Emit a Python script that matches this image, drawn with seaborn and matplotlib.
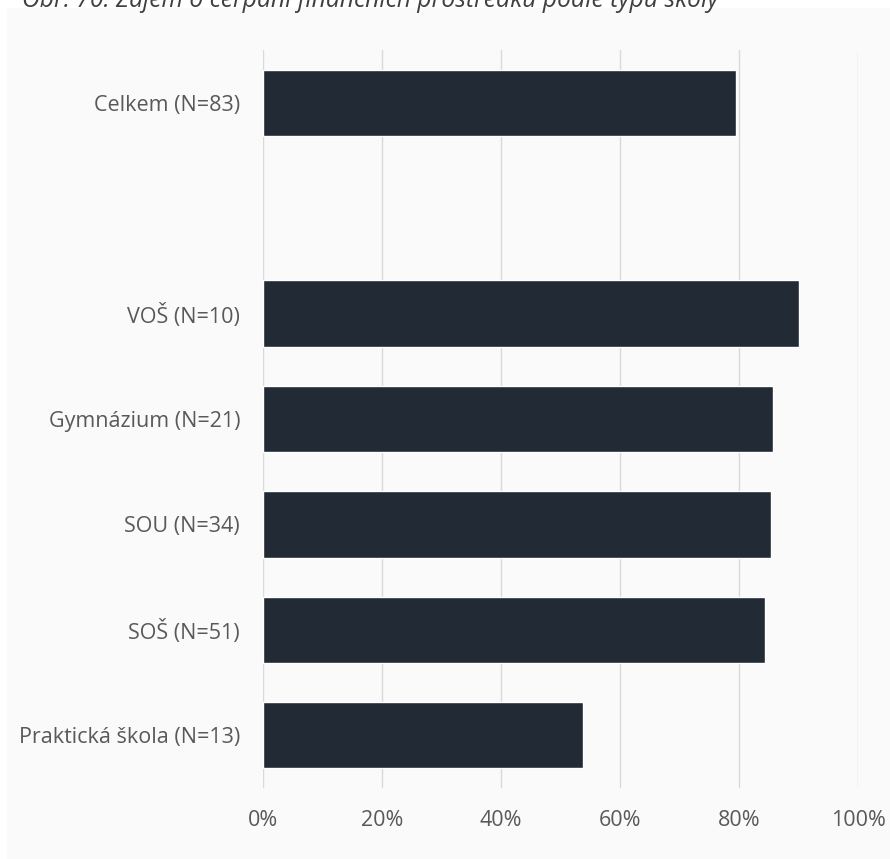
import pandas as pd
import matplotlib.pyplot as plt
import seaborn as sns
from matplotlib.patches import Rectangle
from matplotlib.ticker import PercentFormatter


# data
categories = ["Celkem (N=83)", "VOŠ (N=10)", "Gymnázium (N=21)",
              "SOU (N=34)", "SOŠ (N=51)", "Praktická škola (N=13)"]
shares = [79.5, 90.0, 85.7, 85.3, 84.3, 53.8]
order = ["Celkem (N=83)", " ", "VOŠ (N=10)", "Gymnázium (N=21)",
         "SOU (N=34)", "SOŠ (N=51)", "Praktická škola (N=13)"]
x_ticks = [0, 20, 40, 60, 80, 100]
title = "Obr. 70: Zájem o čerpání finančních prostředků podle typu školy"

df = pd.DataFrame({"kategorie": categories, "podil": shares})

sns.set_style("white")
plt.rcParams["font.family"] = ["Open Sans", "DejaVu Sans"]

fig = plt.figure(figsize=(8.9, 8.59), dpi=100, facecolor="white")
bg = "#fafafa"
fig.patches.append(Rectangle((7 / 890, 0), 1, 1 - 8 / 859, transform=fig.transFigure,
                             facecolor=bg, edgecolor="none", zorder=-1))

ax = fig.add_axes([263 / 890, 1 - 788 / 859, (858 - 263) / 890, (788 - 50) / 859])
ax.set_facecolor(bg)

sns.barplot(data=df, x="podil", y="kategorie", order=order, color="#222a35",
            width=0.63, saturation=1, ax=ax, zorder=3)

ax.set_xlim(0, 100)
ax.set_ylim(6.5, -0.5)
ax.set_xticks(x_ticks)
ax.xaxis.set_major_formatter(PercentFormatter(decimals=0))
ax.grid(axis="x", color="#d9d9d9", linewidth=1.0, zorder=0)
ax.set_xlabel("")
ax.set_ylabel("")
for s in ax.spines.values():
    s.set_visible(False)
ax.tick_params(axis="both", length=0, labelsize=15.5, labelcolor="#595959")
ax.tick_params(axis="x", pad=16)
ax.tick_params(axis="y", pad=16.5)

fig.text(22 / 890, 1 - 7 / 859, title, fontsize=17.7, style="italic",
         color="#404040", va="baseline", ha="left")

fig.savefig("out.png", dpi=100, facecolor="white")
